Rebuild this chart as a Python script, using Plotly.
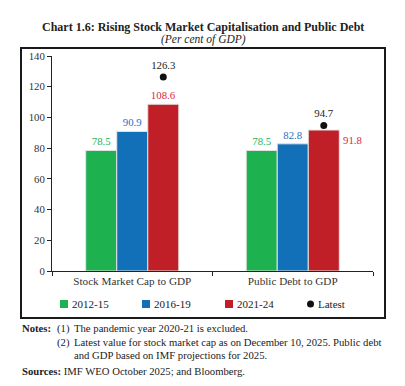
import plotly.graph_objects as go

categories = ["Stock Market Cap to GDP", "Public Debt to GDP"]
series_names = ["2012-15", "2016-19", "2021-24"]
v_2012_15 = [78.5, 78.5]
v_2016_19 = [90.9, 82.8]
v_2021_24 = [108.6, 91.8]
latest = [126.3, 94.7]
y_ticks = [0, 20, 40, 60, 80, 100, 120, 140]

colors = ["#1eb14f", "#1170b8", "#c01f27"]
label_colors = ["#22b35a", "#2a6fc4", "#d8264a"]
FONT = "Liberation Serif"

# page has an 8px body margin: figure pixel = screen pixel - 8
OFF = 8
W, H = 405 - OFF, 386 - OFF
# plot area in screen pixels
SL, SR, ST, SB = 52, 373, 56, 271
L, R, T, B = SL - OFF, SR - OFF, ST - OFF, SB - OFF
def px(x):
    return (x - SL) / (SR - SL)
def py(y):
    return (SB - y) / (SB - ST)

fig = go.Figure()
series = [v_2012_15, v_2016_19, v_2021_24]
for i, (name, vals) in enumerate(zip(series_names, series)):
    texts = [f"{v:.1f}" for v in vals]
    if i == 2:
        texts = [texts[0], ""]
    fig.add_trace(go.Bar(
        x=categories, y=vals, name=name,
        marker=dict(color=colors[i], line=dict(color="#e4e4e4", width=1)),
        text=texts, textposition="outside",
        textfont=dict(family=FONT, size=10.8, color=label_colors[i]),
        cliponaxis=False, offsetgroup=str(i), showlegend=False,
    ))

fig.add_trace(go.Scatter(
    x=categories, y=latest, name="Latest", mode="markers+text",
    marker=dict(color="#111111", size=7),
    text=[f"{v:.1f}" for v in latest], textposition="top center",
    textfont=dict(family=FONT, size=10.8, color="#222222"),
    offsetgroup="2", cliponaxis=False, showlegend=False,
))

annotations = [
    dict(x=categories[1], y=v_2021_24[1], xref="x", yref="y",
         text=f"{v_2021_24[1]:.1f}", showarrow=False, xshift=60, yshift=-10,
         font=dict(family=FONT, size=10.8, color=label_colors[2])),
    dict(x=px(203), y=py(18), xref="paper", yref="paper", showarrow=False,
         text="<b>Chart 1.6: Rising Stock Market Capitalisation and Public Debt</b>",
         font=dict(family=FONT, size=12, color="#222222")),
    dict(x=px(203), y=py(31), xref="paper", yref="paper", showarrow=False,
         text="<i>(Per cent of GDP)</i>",
         font=dict(family=FONT, size=11.5, color="#222222")),
]
note_font = dict(family=FONT, size=10.7, color="#222222")
notes = [
    (20, 328, "<b>Notes:</b>"), (55, 328, "(1)"), (72, 328, "The pandemic year 2020-21 is excluded."),
    (55, 342, "(2)"), (72, 342, "Latest value for stock market cap as on December 10, 2025. Public debt"),
    (72, 355, "and GDP based on IMF projections for 2025."),
    (20, 371, "<b>Sources:</b> IMF WEO October 2025; and Bloomberg."),
]
for x, y, t in notes:
    annotations.append(dict(x=px(x), y=py(y), xref="paper", yref="paper", showarrow=False,
                            xanchor="left", yanchor="middle", text=t, font=note_font))

# frame and manual legend (symbol + label)
shapes = [dict(type="rect", xref="paper", yref="paper",
               x0=px(21), x1=px(385), y0=py(318), y1=py(48),
               line=dict(color="#1a1a1a", width=2))]
legend_x = [60, 142, 225, 306]
legend_y = 304
for i, name in enumerate(series_names + ["Latest"]):
    x0 = legend_x[i]
    if i < 3:
        shapes.append(dict(type="rect", xref="paper", yref="paper",
                           x0=px(x0), x1=px(x0 + 8), y0=py(legend_y + 4), y1=py(legend_y - 4),
                           fillcolor=colors[i], line=dict(width=0)))
    else:
        shapes.append(dict(type="circle", xref="paper", yref="paper",
                           x0=px(x0 + 1), x1=px(x0 + 8), y0=py(legend_y + 3.5), y1=py(legend_y - 3.5),
                           fillcolor="#111111", line=dict(width=0)))
    annotations.append(dict(x=px(x0 + 10), y=py(legend_y), xref="paper", yref="paper",
                            showarrow=False, xanchor="left", yanchor="middle", text=name,
                            font=dict(family=FONT, size=11, color="#222222")))

fig.update_layout(
    width=W, height=H,
    margin=dict(l=L, r=W - R, t=T, b=H - B, autoexpand=False),
    paper_bgcolor="white", plot_bgcolor="white",
    barmode="group", bargap=0.42, bargroupgap=0,
    scattermode="group", scattergap=0.42,
    font=dict(family=FONT, size=10.5, color="#333333"),
    showlegend=False,
    annotations=annotations,
    shapes=shapes,
)
fig.update_yaxes(range=[0, 140], tickvals=y_ticks, showgrid=False, zeroline=False,
                 showline=True, linecolor="#222222", linewidth=1,
                 ticks="outside", ticklen=4, tickcolor="#222222",
                 tickfont=dict(family=FONT, size=10.8, color="#333333"))
fig.update_xaxes(showgrid=False, showline=True, linecolor="#222222", linewidth=1,
                 ticks="outside", ticklen=4, tickcolor="#222222", tickson="boundaries",
                 tickfont=dict(family=FONT, size=11.2, color="#333333"))

fig.write_html("out.html")
